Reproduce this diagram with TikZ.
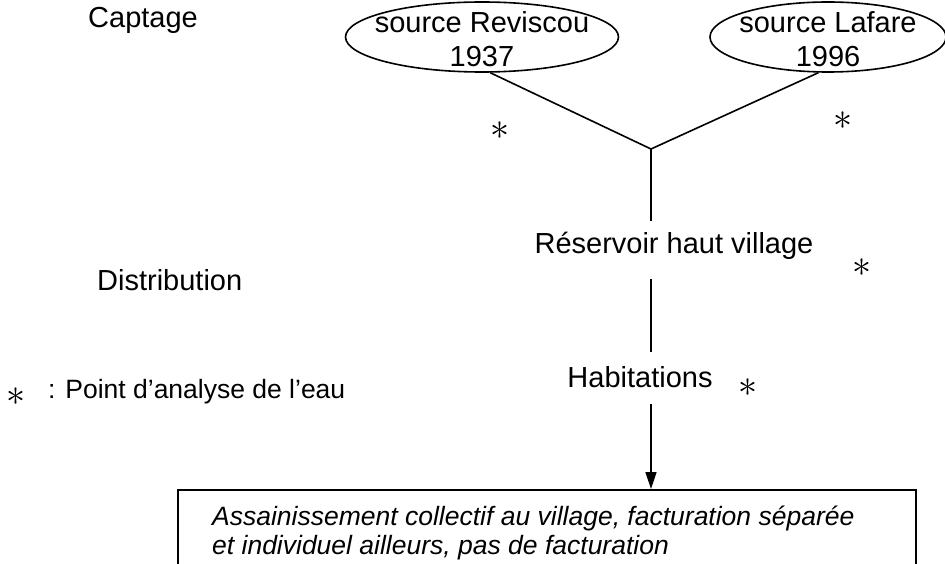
\documentclass[tikz,border=0pt]{standalone}
\usepackage{fontspec}
\setmainfont{Liberation Sans}
\usetikzlibrary{shapes.geometric,arrows.meta}
\begin{document}
\begin{tikzpicture}[x=1pt,y=-1pt,
  lbl/.style={font=\fontsize{29}{33}\selectfont, inner sep=0pt},
  src/.style={ellipse, draw, line width=1.6pt, minimum height=70pt, inner sep=0pt},
  srctxt/.style={align=center, inner sep=0pt, font=\fontsize{29}{34}\selectfont},
  conn/.style={line width=1.6pt},
  star/.style={inner sep=0pt, scale=3.8},
  mid/.style={font=\fontsize{29}{33}\selectfont, inner xsep=0pt, text height=20pt}]
\useasboundingbox (0,0) rectangle (945,564);
\clip (0,0) rectangle (945,564);
% left labels
\node[lbl, anchor=west] (cap) at (88,20) {Captage};
\node[lbl, anchor=west] (dist) at (97,280) {Distribution};
\node[star] (legstar) at (16,397) {$\ast$};
\node[font=\fontsize{26.5}{30}\selectfont, inner sep=0pt, anchor=west] (leg) at (48,392) {: Point d’analyse de l’eau};
% sources
\node[src, minimum width=273pt] (eL) at (482,37) {};
\node[srctxt] (tL) at ([yshift=-2pt]eL.center) {source Reviscou\\1937};
\node[src, minimum width=236pt] (eR) at (828,37) {};
\node[srctxt] (tR) at ([yshift=-2pt]eR.center) {source Lafare\\1996};
\coordinate (j) at (651,149);
\draw[conn] (eL.283) -- (j);
\draw[conn] (eR.255) -- (j);
\node[star] (s1) at (500,131) {$\ast$};
\node[star] (s2) at (843,121) {$\ast$};
% distribution
\node[mid, text depth=13pt, inner ysep=12pt] (res) at (674,250) {Réservoir haut village};
\node[star] (s3) at (862,268) {$\ast$};
\node[mid, text depth=2pt, inner ysep=15pt] (hab) at (640,378) {Habitations};
\node[star] (s4) at (748,388) {$\ast$};
\draw[conn] (j) -- (j |- res.north);
\draw[conn] (res.south -| j) -- (hab.north -| j);
% box
\node[draw, line width=1.6pt, anchor=north west, minimum width=738pt, minimum height=120pt, inner sep=0pt] (box) at (177,489) {};
\node[anchor=north west, align=left, inner sep=0pt, font=\itshape\fontsize{26.5}{29}\selectfont] (boxtxt) at (212,506) {Assainissement collectif au village, facturation séparée\\et individuel ailleurs, pas de facturation};
\draw[conn, -{Triangle[length=17pt,width=11pt]}] (hab.south -| j) -- (box.north -| j);
\end{tikzpicture}
\end{document}
